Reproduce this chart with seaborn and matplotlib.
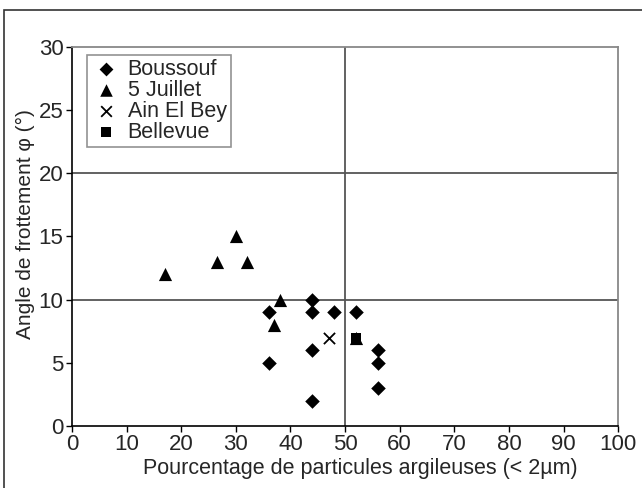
import matplotlib
matplotlib.use("Agg")
import matplotlib.pyplot as plt
import seaborn as sns
import pandas as pd
from matplotlib.patches import Rectangle

sites = ["Boussouf", "5 Juillet", "Ain El Bey", "Bellevue"]

boussouf_x = [44, 36, 44, 48, 52, 44, 36, 56, 56, 56, 44]
boussouf_y = [10, 9, 9, 9, 9, 6, 5, 6, 5, 3, 2]
juillet_x = [17, 26.5, 30, 32, 38, 37, 52]
juillet_y = [12, 13, 15, 13, 10, 8, 7]
ainelbey_x = [47]
ainelbey_y = [7]
bellevue_x = [52]
bellevue_y = [7]

x_ticks = list(range(0, 101, 10))
y_ticks = list(range(0, 31, 5))

rows = []
for name, xs, ys in zip(sites,
                        [boussouf_x, juillet_x, ainelbey_x, bellevue_x],
                        [boussouf_y, juillet_y, ainelbey_y, bellevue_y]):
    for xv, yv in zip(xs, ys):
        rows.append({"x": xv, "y": yv, "site": name})
df = pd.DataFrame(rows)

sns.set_theme(style="white")
plt.rcParams["font.family"] = ["Liberation Sans", "DejaVu Sans"]

fig = plt.figure(figsize=(6.42, 4.88), dpi=100)
ax = fig.add_axes([0.112, 0.127, 0.851, 0.777])

# figure frame
fig.patches.append(Rectangle((4 / 642, -0.05), 1.0, 1 - 10 / 488 + 0.05,
                             transform=fig.transFigure, fill=False,
                             edgecolor="#333333", linewidth=1.2))

# gridlines
for gy in [10, 20]:
    ax.axhline(gy, color="#555555", linewidth=1.3, zorder=1)
ax.axvline(50, color="#555555", linewidth=1.3, zorder=1)

markers = {"Boussouf": "D", "5 Juillet": "^", "Ain El Bey": "x", "Bellevue": "s"}
sizes_map = {"Boussouf": 55, "5 Juillet": 90, "Ain El Bey": 65, "Bellevue": 60}
for name in sites:
    sub = df[df["site"] == name]
    sns.scatterplot(data=sub, x="x", y="y", marker=markers[name],
                    s=sizes_map[name], color="black",
                    edgecolor="black", linewidth=1.3 if name == "Ain El Bey" else 0,
                    ax=ax, label=name, zorder=3)

ax.set_xlim(0, 100)
ax.set_ylim(0, 30)
ax.set_xticks(x_ticks)
ax.set_yticks(y_ticks)
ax.tick_params(axis="both", direction="out", length=4, width=1,
               labelsize=16, color="black", bottom=True, left=True, pad=2)
ax.set_xlabel("Pourcentage de particules argileuses (< 2µm)", fontsize=15.5, labelpad=7)
ax.xaxis.set_label_coords(0.527, -0.085, transform=ax.transAxes)
ax.xaxis.label.set_va("top")
ax.set_ylabel("Angle de frottement φ (°)", fontsize=15, labelpad=3)
ax.yaxis.label.set_y(0.533)

for s in ["left", "bottom"]:
    ax.spines[s].set_color("black")
    ax.spines[s].set_linewidth(1.2)
for s in ["top", "right"]:
    ax.spines[s].set_color("#888888")
    ax.spines[s].set_linewidth(1.3)

leg = ax.legend(loc="upper left", bbox_to_anchor=(0.027, 0.979), borderaxespad=0,
                fontsize=15.5, frameon=True, fancybox=False, edgecolor="#777777",
                handletextpad=0.3, borderpad=0.2, labelspacing=0.0,
                handlelength=1.4, markerscale=0.95)
leg.get_frame().set_linewidth(1.2)

fig.savefig("out.png", dpi=100)
